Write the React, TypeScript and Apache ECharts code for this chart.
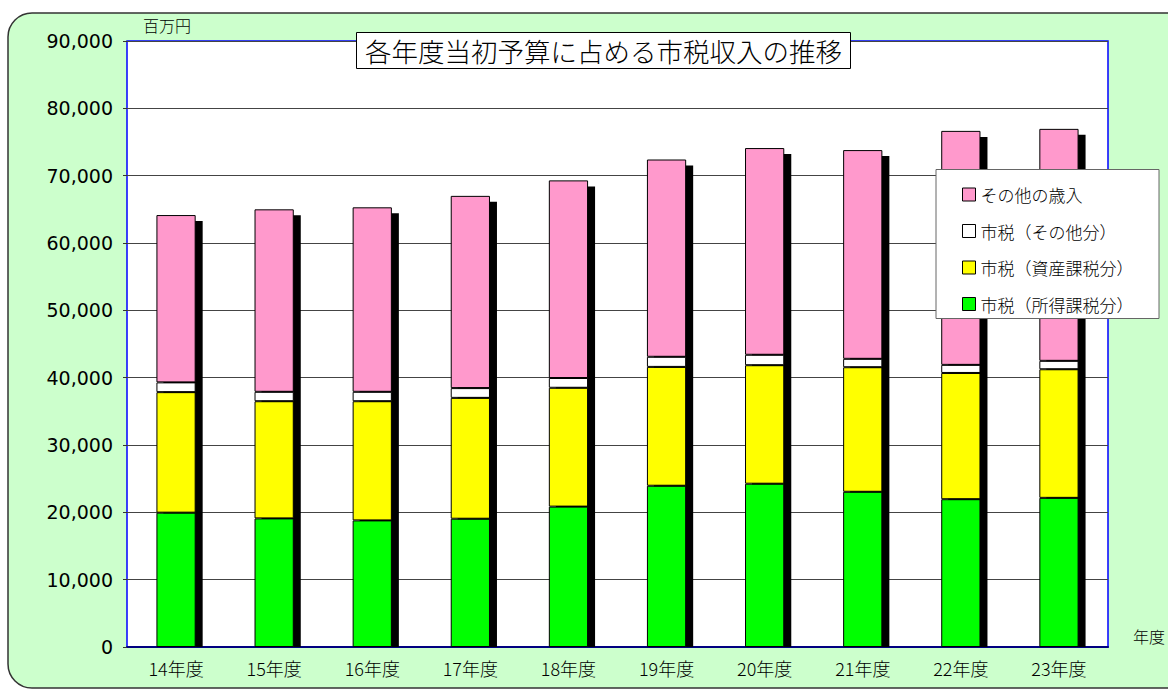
import React, { useEffect, useRef } from "react";
import * as echarts from "echarts";

// 年度別の当初予算（単位：百万円）
const categories = ["14年度", "15年度", "16年度", "17年度", "18年度", "19年度", "20年度", "21年度", "22年度", "23年度"];
const incomeTax = [19950, 19100, 18800, 19050, 20850, 23950, 24250, 23050, 21950, 22150]; // 市税（所得課税分）
const propertyTax = [17900, 17400, 17700, 17950, 17650, 17650, 17600, 18500, 18750, 19100]; // 市税（資産課税分）
const otherTax = [1450, 1400, 1400, 1450, 1450, 1500, 1550, 1250, 1200, 1250]; // 市税（その他分）
const otherRevenue = [24850, 27100, 27400, 28550, 29350, 29300, 30700, 31000, 34750, 34450]; // その他の歳入

const seriesNames = ["市税（所得課税分）", "市税（資産課税分）", "市税（その他分）", "その他の歳入"];
const legendOrder = ["その他の歳入", "市税（その他分）", "市税（資産課税分）", "市税（所得課税分）"];
const yTicks = { min: 0, max: 90000, interval: 10000 };

const FONT = "'Noto Sans CJK JP', 'Noto Sans', sans-serif";
const NUM_FONT = "'DejaVu Sans', 'Noto Sans', sans-serif";

export default function App() {
  const ref = useRef<HTMLDivElement>(null);

  useEffect(() => {
    if (!ref.current) return;
    const chart = echarts.init(ref.current, null, { renderer: "svg" });

    const totals = categories.map(
      (_, i) => incomeTax[i] + propertyTax[i] + otherTax[i] + otherRevenue[i]
    );
    const colors = ["#00FF00", "#FFFF00", "#FFFFFF", "#FF99CC"];
    const values = [incomeTax, propertyTax, otherTax, otherRevenue];

    const barSeries = seriesNames.map((name, k) => ({
      name,
      type: "bar",
      stack: "total",
      barWidth: "40%",
      data: values[k],
      itemStyle: { color: colors[k], borderColor: "#000", borderWidth: 1 },
      z: 3,
    }));

    chart.setOption({
      animation: false,
      backgroundColor: "#FFFFFF",
      textStyle: { fontFamily: FONT, fontWeight: 300 },
      title: {
        text: "各年度当初予算に占める市税収入の推移",
        left: 356,
        top: 32,
        padding: [5, 9, 5, 9],
        backgroundColor: "#FFFFFF",
        borderColor: "#000",
        borderWidth: 1,
        textStyle: { fontFamily: FONT, fontSize: 26.5, fontWeight: 300, color: "#000" },
        z: 20,
      },
      graphic: [
        {
          type: "rect",
          z: -10,
          shape: { x: 8, y: 13, width: 1185, height: 675, r: 24 },
          style: { fill: "#CCFFCC", stroke: "#333", lineWidth: 1.5 },
        },
        {
          type: "text",
          z: 5,
          x: 143,
          y: 17,
          style: { text: "百万円", fontSize: 16, fontWeight: 300, fontFamily: FONT, fill: "#000" },
        },
        {
          type: "text",
          z: 5,
          x: 1133,
          y: 628,
          style: { text: "年度", fontSize: 16, fontWeight: 300, fontFamily: FONT, fill: "#000" },
        },
        {
          type: "rect",
          z: 15,
          shape: { x: 936, y: 169.5, width: 223, height: 149 },
          style: { fill: "#FFFFFF", stroke: "#666", lineWidth: 1 },
        },
      ],
      legend: {
        data: legendOrder,
        orient: "vertical",
        left: 957,
        top: 181,
        itemWidth: 13,
        itemHeight: 13,
        itemGap: 19.5,
        icon: "rect",
        itemStyle: { borderColor: "#000", borderWidth: 1 },
        textStyle: { fontFamily: FONT, fontSize: 17, fontWeight: 300, lineHeight: 17, color: "#000" },
        z: 20,
      },
      grid: {
        left: 127,
        right: 60,
        top: 41,
        bottom: 42,
        show: true,
        backgroundColor: "#FFFFFF",
        borderColor: "#0000FF",
        borderWidth: 1.5,
      },
      xAxis: {
        type: "category",
        data: categories,
        axisLine: { lineStyle: { color: "#000080", width: 2 } },
        axisTick: { inside: true, length: 5, lineStyle: { color: "#333" } },
        axisLabel: { fontFamily: FONT, fontSize: 18, fontWeight: 300, color: "#000", margin: 12 },
      },
      yAxis: {
        type: "value",
        min: yTicks.min,
        max: yTicks.max,
        interval: yTicks.interval,
        axisLine: { show: false },
        axisTick: { show: true, length: 4, lineStyle: { color: "#333" } },
        axisLabel: {
          fontFamily: NUM_FONT,
          fontSize: 19,
          fontWeight: "normal",
          color: "#000",
          margin: 14,
          formatter: (v: number) => v.toLocaleString("en-US"),
        },
        splitLine: { lineStyle: { color: "#444", width: 1 } },
      },
      series: [
        {
          type: "custom",
          name: "shadow",
          silent: true,
          z: 1,
          encode: { x: 0, y: 1 },
          data: totals.map((t, i) => [i, t]),
          renderItem: (params: any, api: any) => {
            const idx = api.value(0);
            const top = api.coord([idx, api.value(1)]);
            const base = api.coord([idx, 0]);
            const bw = api.size([1, 0])[0] * 0.4;
            return {
              type: "rect",
              shape: {
                x: top[0] - bw / 2 + 7,
                y: top[1] + 6,
                width: bw,
                height: base[1] - top[1] - 6,
              },
              style: { fill: "#000" },
            };
          },
        },
        ...barSeries,
      ],
    });

    return () => chart.dispose();
  }, []);

  return (
    <div
      ref={ref}
      style={{ position: "absolute", left: 0, top: 0, width: 1168, height: 689 }}
    />
  );
}
